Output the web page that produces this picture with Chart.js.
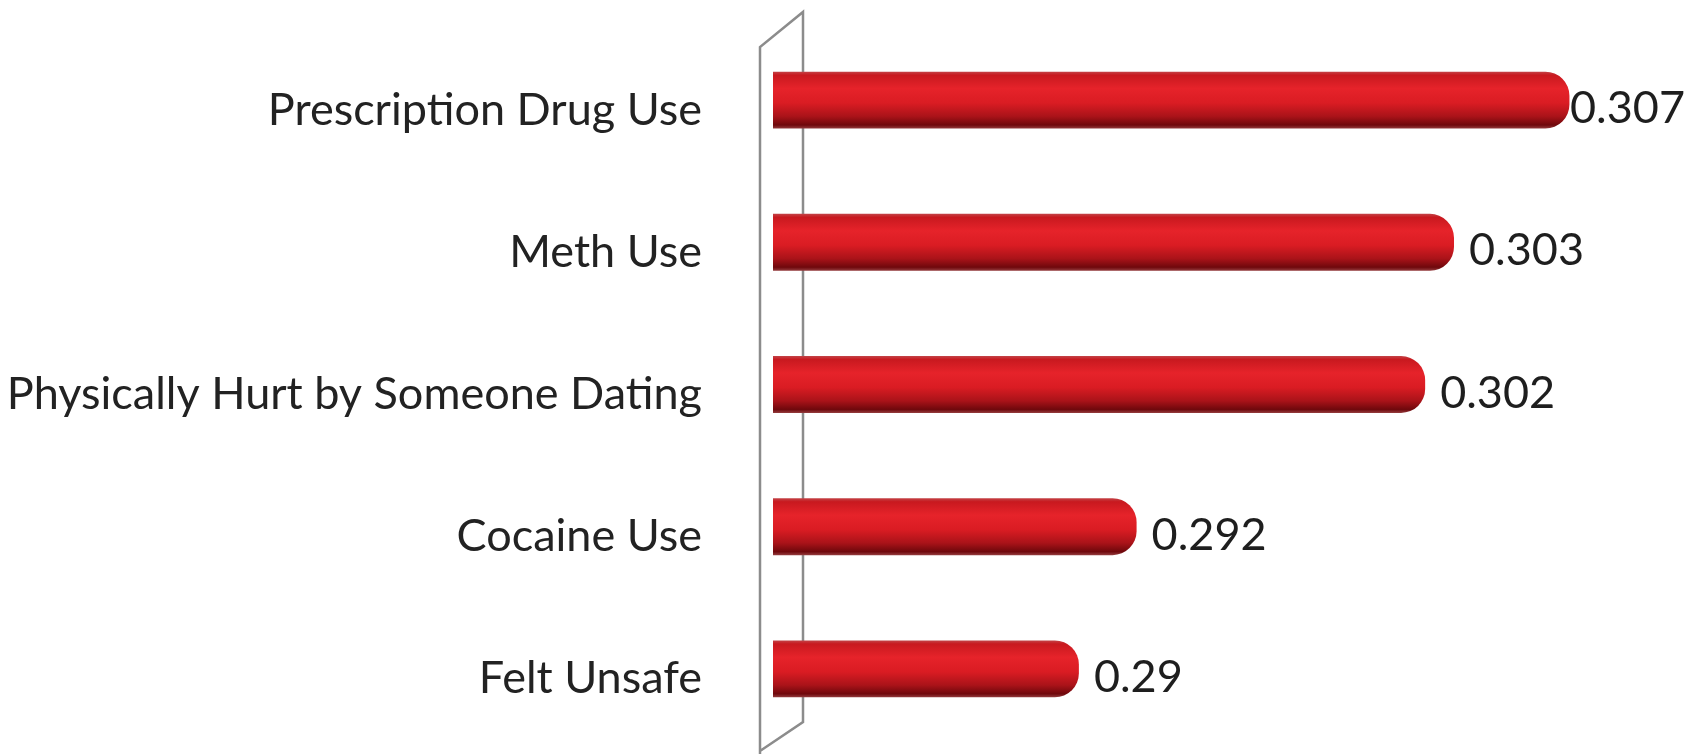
<!DOCTYPE html>
<html>
<head>
<meta charset="utf-8">
<script src="https://cdn.jsdelivr.net/npm/chart.js@4.4.1/dist/chart.umd.min.js"></script>
<style>
  html, body { margin: 0; padding: 0; background: #ffffff; }
  #wrap { width: 1693px; height: 754px; }
</style>
</head>
<body>
<div id="wrap"><canvas id="chart" width="1693" height="754"></canvas></div>
<script>
// --- DATA ---
const categories = ['Prescription Drug Use', 'Meth Use', 'Physically Hurt by Someone Dating', 'Cocaine Use', 'Felt Unsafe'];
const values = [0.307, 0.303, 0.302, 0.292, 0.29];
const valueLabels = ['0.307', '0.303', '0.302', '0.292', '0.29'];

// axis range (axis itself is hidden in the original)
const X_MIN = 0.2794;
const X_MAX = 0.31;

const FONT = 'Lato, "Open Sans", "DejaVu Sans", sans-serif';

// --- CYLINDER SHADING ---
function barFill(ctx) {
    const chart = ctx.chart;
    if (!chart.chartArea || !chart.scales.y) return '#d81c22';
    const y = chart.scales.y.getPixelForValue(ctx.dataIndex);
    const h = 29;
    const g = chart.ctx.createLinearGradient(0, y - h, 0, y + h);
    g.addColorStop(0.0, '#c24a4d');
    g.addColorStop(0.07, '#c8191f');
    g.addColorStop(0.3, '#e6232a');
    g.addColorStop(0.55, '#da1c23');
    g.addColorStop(0.78, '#aa1319');
    g.addColorStop(0.93, '#6f080c');
    g.addColorStop(1.0, '#9a4446');
    return g;
}

// --- 3D WALL behind the bars ---
const wallPlugin = {
    id: 'wall',
    beforeDatasetsDraw(chart) {
        const { ctx, chartArea } = chart;
        const front = chartArea.left - 13;
        const back = chartArea.left + 30;
        ctx.save();
        ctx.strokeStyle = '#8c8c8c';
        ctx.lineWidth = 2.5;
        ctx.beginPath();
        ctx.moveTo(front, 754);
        ctx.lineTo(front, 47);
        ctx.lineTo(back, 12);
        ctx.lineTo(back, 722);
        ctx.lineTo(front, 751);
        ctx.stroke();
        ctx.restore();
    }
};

// --- VALUE LABELS ---
const valueLabelPlugin = {
    id: 'valueLabels',
    afterDatasetsDraw(chart) {
        const { ctx, width } = chart;
        const meta = chart.getDatasetMeta(0);
        ctx.save();
        ctx.fillStyle = '#1e1e1e';
        ctx.font = '45px ' + FONT;
        ctx.textAlign = 'left';
        ctx.textBaseline = 'alphabetic';
        meta.data.forEach((bar, i) => {
            const w = ctx.measureText(valueLabels[i]).width;
            // pushed back inside the canvas when it would not fit
            const x = Math.min(bar.x + 15, width - w - 8);
            ctx.fillText(valueLabels[i], x, bar.y + 23);
        });
        ctx.restore();
    }
};

new Chart(document.getElementById('chart'), {
    type: 'bar',
    data: {
        labels: categories,
        datasets: [{
            data: values,
            backgroundColor: barFill,
            borderWidth: 0,
            borderSkipped: false,
            borderRadius: { topLeft: 14, bottomLeft: 14, topRight: 24, bottomRight: 24 },
            categoryPercentage: 0.4,
            barPercentage: 1.0
        }]
    },
    options: {
        indexAxis: 'y',
        responsive: false,
        animation: false,
        devicePixelRatio: 1,
        layout: { padding: { top: 29, bottom: 14, left: 0, right: 37 } },
        plugins: {
            legend: { display: false },
            tooltip: { enabled: false }
        },
        scales: {
            x: {
                display: false,
                min: X_MIN,
                max: X_MAX
            },
            y: {
                afterFit(scale) {
                    scale.width = 773;
                    scale.paddingTop = 0;
                    scale.paddingBottom = 0;
                },
                grid: { display: false, drawTicks: false },
                border: { display: false },
                ticks: {
                    color: '#222222',
                    font: { family: FONT, size: 45 },
                    padding: 71,
                    labelOffset: 10
                }
            }
        }
    },
    plugins: [wallPlugin, valueLabelPlugin]
});
</script>
</body>
</html>
